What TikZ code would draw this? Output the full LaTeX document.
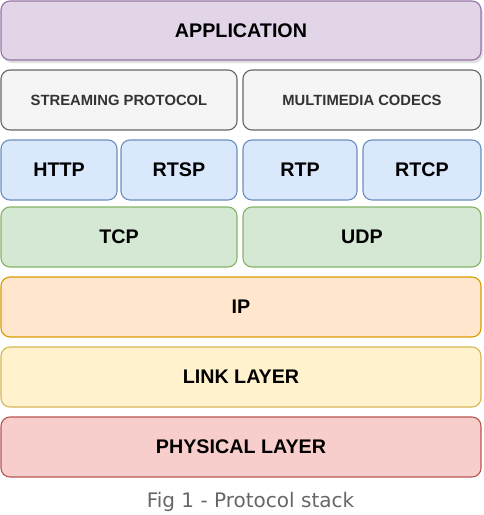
\documentclass[tikz,border=0pt]{standalone}
\usepackage{fontspec}
\setmainfont{Liberation Sans}
\newfontfamily\capfont{DejaVu Sans}
\usetikzlibrary{shadows}

\definecolor{appfill}{HTML}{E1D5E7}\definecolor{appline}{HTML}{9673A6}
\definecolor{grayfill}{HTML}{F5F5F5}\definecolor{grayline}{HTML}{666666}
\definecolor{bluefill}{HTML}{DAE8FC}\definecolor{blueline}{HTML}{6C8EBF}
\definecolor{greenfill}{HTML}{D5E8D4}\definecolor{greenline}{HTML}{82B366}
\definecolor{orangefill}{HTML}{FFE6CC}\definecolor{orangeline}{HTML}{D79B00}
\definecolor{yellowfill}{HTML}{FFF2CC}\definecolor{yellowline}{HTML}{D6B656}
\definecolor{redfill}{HTML}{F8CECC}\definecolor{redline}{HTML}{B85450}
\definecolor{captext}{HTML}{666666}

\tikzset{
  layer/.style={draw, rounded corners=9pt, line width=1.1pt, inner sep=0pt,
    minimum height=60pt, font=\fontsize{19.7}{22}\selectfont\bfseries},
  small/.style={font=\fontsize{14.8}{17}\selectfont\bfseries, text=black!80},
}

\begin{document}
\begin{tikzpicture}[x=1pt, y=-1pt]
  \useasboundingbox (0,0) rectangle (483,515);

  % top
  \node[layer, fill=appfill, draw=appline, minimum width=480pt, minimum height=59pt,
        drop shadow={shadow xshift=2pt, shadow yshift=-3pt, opacity=0.25}] (app) at (241,30.5) {APPLICATION};

  % streaming / codecs
  \node[layer, small, fill=grayfill, draw=grayline, minimum width=236pt] (stream) at (119,100) {STREAMING PROTOCOL};
  \node[layer, small, fill=grayfill, draw=grayline, minimum width=238pt] (codecs) at (362,100) {MULTIMEDIA CODECS};

  % protocols
  \node[layer, fill=bluefill, draw=blueline, minimum width=116pt] (http) at (59,170) {HTTP};
  \node[layer, fill=bluefill, draw=blueline, minimum width=116pt] (rtsp) at (179,170) {RTSP};
  \node[layer, fill=bluefill, draw=blueline, minimum width=114pt] (rtp) at (300,170) {RTP};
  \node[layer, fill=bluefill, draw=blueline, minimum width=118pt] (rtcp) at (422,170) {RTCP};

  % transport
  \node[layer, fill=greenfill, draw=greenline, minimum width=236pt] (tcp) at (119,237) {TCP};
  \node[layer, fill=greenfill, draw=greenline, minimum width=238pt] (udp) at (362,237) {UDP};

  % lower layers
  \node[layer, fill=orangefill, draw=orangeline, minimum width=480pt] (ip) at (241,307) {IP};
  \node[layer, fill=yellowfill, draw=yellowline, minimum width=480pt] (link) at (241,377) {LINK LAYER};
  \node[layer, fill=redfill, draw=redline, minimum width=480pt] (phys) at (241,447) {PHYSICAL LAYER};

  \node[font=\capfont\fontsize{20}{24}\selectfont, text=captext] (caption) at (250.5,502) {Fig 1 - Protocol stack};
\end{tikzpicture}
\end{document}
